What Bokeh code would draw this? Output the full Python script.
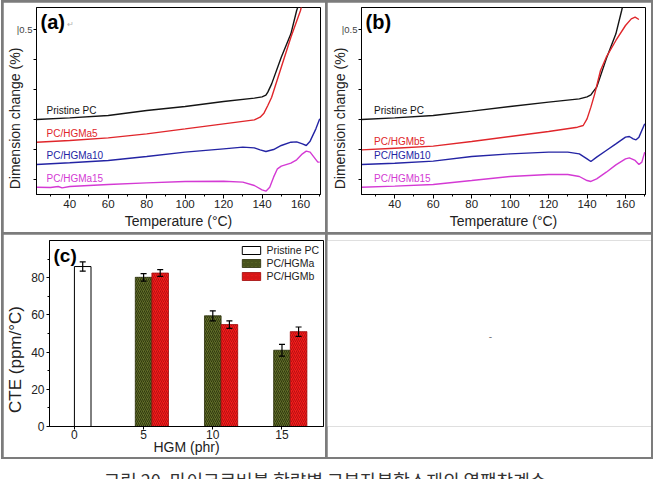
from bokeh.plotting import figure
from bokeh.models import (ColumnDataSource, FixedTicker, Label, Range1d, Whisker,
                          TeeHead, Div)
from bokeh.layouts import column, row
from bokeh.transform import dodge
from bokeh.embed import file_html
from bokeh.resources import INLINE

FONT = "Liberation Sans"
NB = "\u00a0"

# ---------------- data: panel (a) ----------------
t_a_pc = [22.7, 40, 60, 80, 100, 120, 136, 140, 142, 143, 145, 150, 155, 158, 159.5]
d_a_pc = [1.000, 1.028, 1.067, 1.150, 1.217, 1.300, 1.356, 1.378, 1.406, 1.456, 1.594, 2.039, 2.428, 2.817, 2.956]
t_a_5 = [22.7, 40, 60, 80, 100, 120, 136, 139, 141, 143, 145, 150, 155, 160, 161]
d_a_5 = [0.622, 0.650, 0.694, 0.761, 0.844, 0.928, 0.994, 1.039, 1.106, 1.233, 1.372, 1.872, 2.372, 2.817, 2.956]
t_a_10 = [22.7, 40, 60, 80, 100, 120, 130, 136, 139, 142, 146, 150, 155, 158, 161, 163, 165, 168, 170]
d_a_10 = [0.250, 0.278, 0.317, 0.383, 0.456, 0.511, 0.539, 0.528, 0.494, 0.467, 0.500, 0.567, 0.622, 0.628, 0.594, 0.567, 0.639, 0.844, 1.011]
t_a_15 = [22.7, 30, 34, 36, 40, 60, 80, 100, 120, 130, 136, 140, 142, 144, 146, 148, 150, 155, 158, 161, 163, 165, 167, 169, 170]
d_a_15 = [-0.128, -0.133, -0.117, -0.139, -0.117, -0.083, -0.056, -0.033, -0.028, -0.044, -0.100, -0.172, -0.194, -0.128, 0.039, 0.178, 0.222, 0.272, 0.328, 0.428, 0.472, 0.456, 0.372, 0.289, 0.289]

# ---------------- data: panel (b) ----------------
t_b_pc = [22.7, 40, 60, 80, 100, 120, 136, 140, 142, 143, 145, 150, 155, 158, 159]
d_b_pc = [1.000, 1.028, 1.067, 1.139, 1.217, 1.289, 1.344, 1.378, 1.411, 1.456, 1.539, 2.011, 2.428, 2.817, 2.956]
t_b_5 = [22.7, 40, 60, 80, 100, 120, 135, 138, 140, 142, 144, 147, 150, 155, 160, 163, 165, 167]
d_b_5 = [0.494, 0.522, 0.556, 0.633, 0.717, 0.800, 0.872, 0.900, 1.011, 1.206, 1.428, 1.817, 2.039, 2.317, 2.567, 2.678, 2.706, 2.667]
t_b_10 = [22.7, 40, 60, 80, 100, 120, 130, 136, 140, 142, 145, 150, 155, 160, 162, 164, 165.5, 167, 170]
d_b_10 = [0.250, 0.272, 0.306, 0.383, 0.428, 0.456, 0.456, 0.428, 0.344, 0.300, 0.372, 0.483, 0.594, 0.706, 0.717, 0.678, 0.661, 0.706, 0.928]
t_b_15 = [22.7, 40, 60, 80, 100, 120, 130, 136, 140, 142, 145, 150, 155, 160, 162, 165, 167, 168.5, 170]
d_b_15 = [-0.128, -0.111, -0.083, -0.017, 0.050, 0.083, 0.083, 0.050, -0.017, -0.033, 0.011, 0.122, 0.244, 0.344, 0.361, 0.317, 0.250, 0.289, 0.456]

temp_ticks = [40, 60, 80, 100, 120, 140, 160]
temp_minor = [30, 50, 70, 90, 110, 130, 150, 170]
dim_ticks = [0, 0.5, 1.0, 1.5, 2.0, 2.5]
dim_scale_tick = 2.5
dim_scale_text = "|0.5"

# ---------------- data: panel (c) ----------------
hgm_pristine = [0]
cte_pristine = [86.0]
err_pristine = [2.5]
hgm = [5, 10, 15]
cte_a = [80.2, 59.5, 41.0]
err_a = [2.0, 2.7, 3.2]
cte_b = [82.5, 54.8, 51.0]
err_b = [1.8, 2.0, 2.5]
hgm_ticks = [0, 5, 10, 15]
cte_ticks = [0, 20, 40, 60, 80]
cte_minor = [10, 30, 50, 70, 90]

caption = "그림 20. 마이크로버블 함량별 고분자복합소재의 열팽창계수"

BLACK = "#141414"
RED = "#e0262b"
BLUE = "#2424a4"
MAG = "#d43ad4"


def style_axes(p, tick_size):
    for ax in (p.xaxis[0], p.yaxis[0]):
        ax.axis_line_color = "black"
        ax.major_tick_line_color = "black"
        ax.minor_tick_line_color = "black"
        ax.major_label_text_font = FONT
        ax.major_label_text_font_size = tick_size
        ax.major_label_text_color = "#222222"
        ax.axis_label_text_font = FONT
        ax.axis_label_text_font_style = "normal"
        ax.axis_label_text_color = "#222222"
    p.xgrid.visible = False
    p.ygrid.visible = False
    p.outline_line_color = "black"
    p.outline_line_width = 1
    p.background_fill_color = "white"
    p.border_fill_color = "white"


def dim_panel(width, mb_left, mb_right, series, names, tag):
    p = figure(width=width, height=230, x_range=Range1d(22.7, 170.4),
               y_range=Range1d(-0.25, 2.867), output_backend="svg",
               toolbar_location=None, min_border_left=mb_left,
               min_border_right=mb_right, min_border_top=5, min_border_bottom=38)
    style_axes(p, "11.5px")
    p.xaxis.ticker = FixedTicker(ticks=temp_ticks, minor_ticks=temp_minor)
    p.xaxis.major_tick_out = 4
    p.xaxis.major_tick_in = 0
    p.xaxis.minor_tick_out = 2
    p.xaxis.minor_tick_in = 0
    p.xaxis.major_label_standoff = 1
    p.xaxis.axis_label = "Temperature (°C)"
    p.xaxis.axis_label_text_font_size = "14px"
    p.xaxis.axis_label_standoff = 2
    # y axis: unlabeled ticks, one scale mark "|0.5" at the top tick
    p.yaxis.ticker = FixedTicker(ticks=[dim_scale_tick],
                                 minor_ticks=[t for t in dim_ticks if t != dim_scale_tick])
    p.yaxis.major_tick_out = 3
    p.yaxis.major_tick_in = 0
    p.yaxis.minor_tick_out = 3
    p.yaxis.minor_tick_in = 0
    p.yaxis.major_label_overrides = {dim_scale_tick: dim_scale_text}
    p.yaxis.major_label_text_font_size = "9.5px"
    p.yaxis.major_label_text_color = "#444444"
    p.yaxis.major_label_standoff = 1
    p.yaxis.axis_label = "Dimension change (%)" + NB * 9
    p.yaxis.axis_label_text_font_size = "14px"
    p.yaxis.axis_label_standoff = -9

    colors = [BLACK, RED, BLUE, MAG]
    for (t, d), c in zip(series, colors):
        p.line(t, d, line_color=c, line_width=1.4)
    ys = [1.15, names[4], 0.405, 0.017]
    for name, yy, c in zip(names[:4], ys, colors):
        p.add_layout(Label(x=names[5], y=yy, text=name, text_font=FONT,
                           text_font_size="10px", text_color=c,
                           text_baseline="middle", text_align="left"))
    p.add_layout(Label(x=24.8, y=2.617, text=tag, text_font=FONT,
                       text_font_size="20px", text_font_style="bold",
                       text_color="black", text_baseline="middle"))
    return p


pa = dim_panel(322, 33, 5,
               [(t_a_pc, d_a_pc), (t_a_5, d_a_5), (t_a_10, d_a_10), (t_a_15, d_a_15)],
               ["Pristine PC", "PC/HGMa5", "PC/HGMa10", "PC/HGMa15", 0.767, 27.9], "(a)")
pa.add_layout(Label(x=38.5, y=2.58, text="↵", text_font=FONT, text_font_size="8px",
                    text_color="#b0b0b0", text_baseline="middle"))
pb = dim_panel(324, 34, 6,
               [(t_b_pc, d_b_pc), (t_b_5, d_b_5), (t_b_10, d_b_10), (t_b_15, d_b_15)],
               ["Pristine PC", "PC/HGMb5", "PC/HGMb10", "PC/HGMb15", 0.633, 29.2], "(b)")

# ---------------- panel (c) ----------------
pc = figure(width=322, height=223, x_range=Range1d(-1.8, 18), y_range=Range1d(0, 100),
            output_backend="svg", toolbar_location=None, min_border_left=46,
            min_border_right=2, min_border_top=6, min_border_bottom=29)
style_axes(pc, "12px")
pc.xaxis.ticker = FixedTicker(ticks=hgm_ticks, minor_ticks=[])
pc.xaxis.major_tick_out = 3
pc.xaxis.major_tick_in = 0
pc.xaxis.major_label_standoff = 0
pc.xaxis.axis_label = "HGM (phr)"
pc.xaxis.axis_label_text_font_size = "14px"
pc.xaxis.axis_label_standoff = -3
pc.yaxis.ticker = FixedTicker(ticks=cte_ticks, minor_ticks=cte_minor)
pc.yaxis.major_tick_out = 3
pc.yaxis.major_tick_in = 0
pc.yaxis.minor_tick_out = 2
pc.yaxis.minor_tick_in = 0
pc.yaxis.major_label_standoff = 2
pc.yaxis.axis_label = "CTE (ppm/°C)" + NB * 11
pc.yaxis.axis_label_text_font_size = "17px"
pc.yaxis.axis_label_standoff = 3

src0 = ColumnDataSource(dict(hgm=hgm_pristine, cte=cte_pristine,
                             lo=[v - e for v, e in zip(cte_pristine, err_pristine)],
                             hi=[v + e for v, e in zip(cte_pristine, err_pristine)]))
srca = ColumnDataSource(dict(hgm=hgm, cte=cte_a,
                             lo=[v - e for v, e in zip(cte_a, err_a)],
                             hi=[v + e for v, e in zip(cte_a, err_a)]))
srcb = ColumnDataSource(dict(hgm=hgm, cte=cte_b,
                             lo=[v - e for v, e in zip(cte_b, err_b)],
                             hi=[v + e for v, e in zip(cte_b, err_b)]))

BW = 1.2
pc.vbar(x=dodge("hgm", BW / 2), top="cte", width=BW, source=src0, fill_color="white",
        line_color="black", line_width=1, legend_label="Pristine PC")
pc.vbar(x="hgm", top="cte", width=BW, source=srca, fill_color="#606d28",
        hatch_pattern="/", hatch_color="#30380f", hatch_scale=4, hatch_weight=1,
        line_color="#2e3410", line_width=0.8, legend_label="PC/HGMa")
pc.vbar(x=dodge("hgm", BW), top="cte", width=BW, source=srcb, fill_color="#f41c1c",
        hatch_pattern="/", hatch_color="#b81010", hatch_scale=4, hatch_weight=1,
        line_color="#a01010", line_width=0.8, legend_label="PC/HGMb")

for s, off in ((src0, BW / 2), (srca, 0), (srcb, BW)):
    w = Whisker(source=s, base=dodge("hgm", off), upper="hi", lower="lo",
                line_color="black", line_width=1.2, level="overlay",
                upper_head=TeeHead(size=6, line_color="black", line_width=1.2),
                lower_head=TeeHead(size=6, line_color="black", line_width=1.2))
    pc.add_layout(w)

lg = pc.legend[0]
lg.location = "top_right"
lg.label_text_font = FONT
lg.label_text_font_size = "10.5px"
lg.label_text_color = "#222222"
lg.glyph_width = 23
lg.glyph_height = 10
lg.label_height = 10
lg.spacing = 1
lg.padding = 2
lg.margin = 2
lg.label_standoff = 4
lg.border_line_alpha = 0
lg.background_fill_alpha = 0

pc.add_layout(Label(x=-1.51, y=92.2, text="(c)", text_font=FONT, text_font_size="19px",
                    text_font_style="bold", text_color="black", text_baseline="middle"))

# ---------------- panel (d): empty cell ----------------
pd = figure(width=324, height=223, x_range=Range1d(0, 1), y_range=Range1d(0, 1),
            output_backend="svg", toolbar_location=None, min_border=0,
            x_axis_location=None, y_axis_location=None)
pd.xgrid.visible = False
pd.ygrid.visible = False
pd.outline_line_color = None
pd.border_fill_color = "white"
pd.add_layout(Label(x=0.503, y=0.484, text="-", text_font=FONT, text_font_size="10px",
                    text_color="#777777", text_align="center", text_baseline="middle"))

grid = column(row(pa, pb, spacing=2), row(pc, pd, spacing=2), spacing=2,
              styles={"background-color": "#7c7c7c", "padding": "2px", "margin-left": "1px"})

cap = Div(text=caption, width=655, height=20,
          styles={"font-family": "Noto Sans CJK KR", "font-size": "18px",
                  "text-align": "center", "color": "#333333", "padding-top": "4px",
                  "width": "640px"})

page = column(grid, cap, spacing=0, styles={"background-color": "white"})

open("out.html", "w").write(file_html(page, INLINE))
